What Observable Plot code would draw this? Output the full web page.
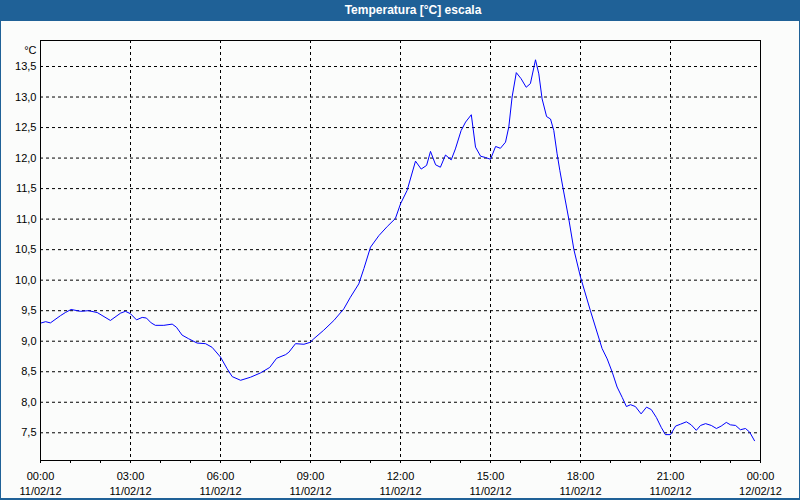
<!DOCTYPE html>
<html>
<head>
<meta charset="utf-8">
<script src="https://cdn.jsdelivr.net/npm/d3@7"></script>
<script src="https://cdn.jsdelivr.net/npm/@observablehq/plot@0.6"></script>
<style>
  html, body { margin: 0; padding: 0; background: #fbfcfb; }
  #wrap { position: relative; width: 800px; height: 500px; overflow: hidden; background: #fbfcfb; }
  #title { position: absolute; left: 0; top: 0; width: 800px; height: 21px; background: #1f6197;
           color: #fff; font: bold 12px "Liberation Sans", Arial, sans-serif; }
  #title span { position: absolute; left: 413px; top: 3px; transform: translateX(-50%); white-space: nowrap; }
  #chart { position: absolute; left: 0; top: 21px; }
  .bl { position: absolute; background: #1f6197; }
</style>
</head>
<body>
<div id="wrap">
  <div id="title"><span>Temperatura [°C] escala</span></div>
  <div id="chart"></div>
  <div class="bl" style="left:0;top:0;width:1px;height:500px"></div>
  <div class="bl" style="right:0;top:0;width:1px;height:500px"></div>
  <div class="bl" style="left:0;bottom:0;width:800px;height:2px"></div>
</div>
<script>
// Hours since 11/02/12 00:00
const hours = [0.03,0.17,0.33,0.67,0.83,1.02,1.33,1.60,1.89,2.33,2.67,2.83,3.00,3.20,3.39,3.53,3.69,3.83,4.11,4.39,4.53,4.72,4.94,5.22,5.50,5.72,6.00,6.22,6.39,6.67,7.00,7.33,7.64,7.87,8.17,8.28,8.50,8.78,8.98,9.11,9.44,9.78,10.11,10.33,10.61,10.78,11.00,11.28,11.56,11.83,12.00,12.22,12.50,12.69,12.87,13.00,13.17,13.33,13.50,13.69,13.83,14.02,14.17,14.36,14.50,14.67,14.83,15.00,15.17,15.33,15.50,15.61,15.72,15.86,16.02,16.19,16.33,16.50,16.61,16.72,16.87,17.00,17.11,17.22,17.31,17.42,17.61,17.78,18.00,18.33,18.72,18.89,19.06,19.22,19.39,19.53,19.67,19.83,20.02,20.20,20.36,20.53,20.69,20.83,21.00,21.17,21.33,21.53,21.69,21.86,22.00,22.17,22.36,22.53,22.69,22.86,23.00,23.17,23.33,23.50,23.64,23.80];
const temps = [9.30,9.32,9.30,9.42,9.47,9.52,9.49,9.50,9.47,9.34,9.46,9.49,9.45,9.35,9.39,9.38,9.30,9.26,9.26,9.28,9.23,9.10,9.04,8.97,8.96,8.90,8.74,8.55,8.42,8.36,8.41,8.48,8.57,8.72,8.78,8.82,8.96,8.95,8.98,9.04,9.18,9.34,9.53,9.72,9.94,10.19,10.54,10.73,10.88,11.01,11.25,11.47,11.95,11.82,11.88,12.11,11.89,11.85,12.05,11.97,12.15,12.45,12.59,12.71,12.18,12.03,12.01,11.98,12.19,12.16,12.26,12.51,13.00,13.40,13.30,13.16,13.22,13.61,13.38,12.97,12.68,12.64,12.45,12.07,11.80,11.50,11.00,10.50,10.05,9.50,8.88,8.71,8.49,8.25,8.08,7.93,7.96,7.93,7.81,7.92,7.88,7.75,7.59,7.47,7.47,7.61,7.64,7.68,7.63,7.54,7.62,7.65,7.62,7.57,7.61,7.67,7.63,7.62,7.55,7.57,7.51,7.37];

const xTickHours = [0,3,6,9,12,15,18,21,24];
const xTickTimes = ["00:00","03:00","06:00","09:00","12:00","15:00","18:00","21:00","00:00"];
const xTickDates = ["11/02/12","11/02/12","11/02/12","11/02/12","11/02/12","11/02/12","11/02/12","11/02/12","12/02/12"];
const xMinorHours = d3.range(0, 25);
const gridHours = [3,6,9,12,15,18,21];
const yTicks = [7.5,8.0,8.5,9.0,9.5,10.0,10.5,11.0,11.5,12.0,12.5,13.0,13.5];
const yUnit = "°C";

const data = hours.map((h, i) => ({h, t: temps[i]}));
const dash = "3,3";

const chart = Plot.plot({
  width: 800,
  height: 477,
  marginLeft: 40,
  marginRight: 40,
  marginTop: 19,
  marginBottom: 38,
  style: {fontFamily: "Liberation Sans, Arial, sans-serif", fontSize: "11px", color: "#000", background: "transparent", overflow: "visible"},
  x: {domain: [0, 24]},
  y: {domain: [7.046, 13.926]},
  marks: [
    Plot.ruleY(yTicks, {stroke: "#000", strokeDasharray: dash, strokeWidth: 1}),
    Plot.ruleX(gridHours, {stroke: "#000", strokeDasharray: dash, strokeWidth: 1}),
    Plot.line(data, {x: "h", y: "t", stroke: "#0000ff", strokeWidth: 1}),
    Plot.frame({stroke: "#000", strokeWidth: 1}),
    Plot.axisX({ticks: xMinorHours, tickSize: 3, tickFormat: () => "", label: null, stroke: "#000"}),
    Plot.axisX({ticks: xTickHours, tickSize: 0, tickPadding: 9, lineHeight: 1.36, label: null,
      tickFormat: d => xTickTimes[xTickHours.indexOf(d)] + "\n" + xTickDates[xTickHours.indexOf(d)], fill: "#000"}),
    Plot.axisY({ticks: yTicks, tickSize: 0, tickPadding: 4, label: null,
      tickFormat: d => d.toFixed(1).replace(".", ","), fill: "#000"}),
    Plot.text([yUnit], {frameAnchor: "top-left", dx: -4, dy: 6, textAnchor: "end", fill: "#000"})
  ]
});
document.getElementById("chart").appendChild(chart);
</script>
</body>
</html>
